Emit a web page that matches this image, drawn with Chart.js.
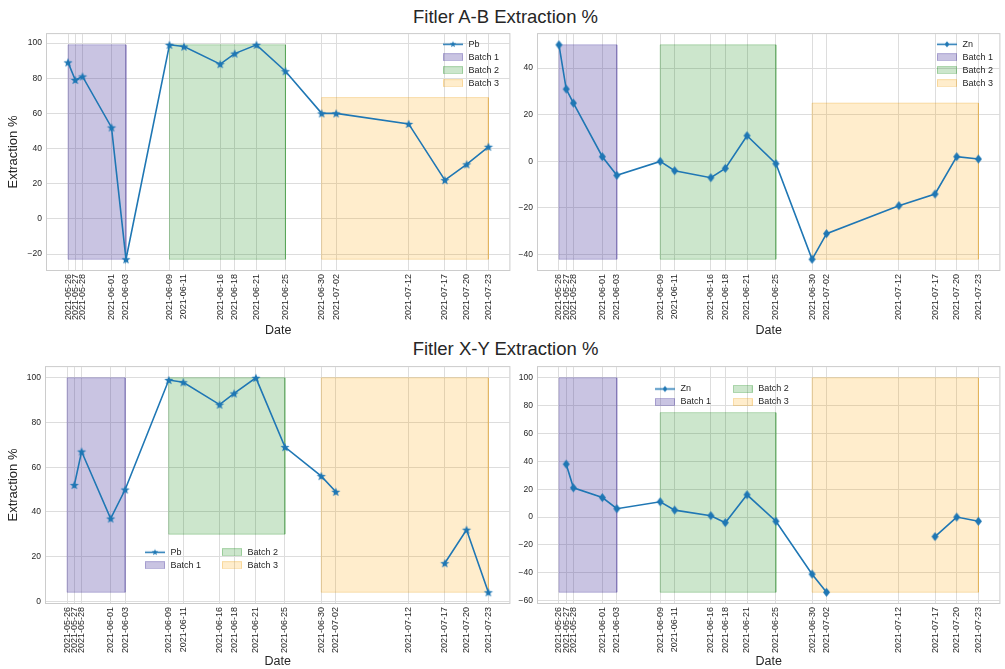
<!DOCTYPE html>
<html>
<head>
<meta charset="utf-8">
<script src="https://cdn.jsdelivr.net/npm/chart.js@4.4.0/dist/chart.umd.min.js"></script>
<style>
  body { margin: 0; background: #fff; width: 1005px; height: 669px; position: relative; overflow: hidden; font-family: "Liberation Sans", Arial, sans-serif; }
  .suptitle { position: absolute; left: 0; width: 1011px; text-align: center; font-size: 18.5px; line-height: 20px; color: #262626; }
  canvas { position: absolute; }
</style>
</head>
<body>
<div class="suptitle" style="top:7px">Fitler A-B Extraction %</div>
<div class="suptitle" style="top:339px">Fitler X-Y Extraction %</div>
<canvas id="abPb" width="515" height="316" style="left:0;top:24px"></canvas>
<canvas id="abZn" width="500" height="316" style="left:505px;top:24px"></canvas>
<canvas id="xyPb" width="515" height="312" style="left:0;top:357px"></canvas>
<canvas id="xyZn" width="500" height="312" style="left:505px;top:357px"></canvas>
<script>
'use strict';

// sample dates (x axis ticks)
let dates = ['2021-05-26', '2021-05-27', '2021-05-28', '2021-06-01', '2021-06-03',
  '2021-06-09', '2021-06-11', '2021-06-16', '2021-06-18', '2021-06-21', '2021-06-25',
  '2021-06-30', '2021-07-02', '2021-07-12', '2021-07-17', '2021-07-20', '2021-07-23'];

// extraction % per filter and metal
let pbAB = [89, 79, 81, 52, -23, 99, 98, 88, 94, 99, 84, 60, 60, 54, 22, 31, 41];
let znAB = [50, 31, 25, 2, -6, 0, -4, -7, -3, 11, -1, -42, -31, -19, -14, 2, 1];
let pbXY = [null, 52, 67, 37, 50, 99, 98, 88, 93, 100, 69, 56, 49, null, 17, 32, 4];
let znXY = [null, 38, 21, 14, 6, 11, 5, 1, -4, 16, -3, -41, -54, null, -14, 0, -3];

// batches
let batchNames = ['Batch 1', 'Batch 2', 'Batch 3'];
let batchStart = ['2021-05-26', '2021-06-09', '2021-06-30'];
let batchEnd = ['2021-06-03', '2021-06-25', '2021-07-23'];
let batchLowABPb = [-23, -23, -23];
let batchHighABPb = [99, 99, 69];
let batchLowABZn = [-42, -42, -42];
let batchHighABZn = [50, 50, 25];
let batchLowXYPb = [4, 30, 4];
let batchHighXYPb = [100, 100, 100];
let batchLowXYZn = [-54, -54, -54];
let batchHighXYZn = [100, 75, 100];

// y tick labels
let yTicksABPb = [-20, 0, 20, 40, 60, 80, 100];
let yTicksABZn = [-40, -20, 0, 20, 40];
let yTicksXYPb = [0, 20, 40, 60, 80, 100];
let yTicksXYZn = [-60, -40, -20, 0, 20, 40, 60, 80, 100];

const FONT = '"Liberation Sans", Arial, sans-serif';
const TEXT = '#262626';
const BLUE = '#1f77b4';
const GRID = '#dddddd';
let batchFill = ['rgba(75,60,160,0.30)', 'rgba(0,128,0,0.20)', 'rgba(255,165,0,0.20)'];
let batchEdge = ['rgba(75,60,160,0.30)', 'rgba(0,128,0,0.25)', 'rgba(230,150,0,0.25)'];

Chart.defaults.font.family = FONT;
Chart.defaults.color = TEXT;

const day0 = Date.parse(dates[0]);
function toDay(s) {
  return (Date.parse(s) - day0) / 86400000;
}
let xs = dates.map(toDay);
let xSpan = xs[xs.length - 1] - xs[0];
let xMin = xs[0] - 0.05 * xSpan;
let xMax = xs[xs.length - 1] + 0.05 * xSpan;

// marker shapes
function starShape(g, r) {
  g.beginPath();
  for (let i = 0; i < 10; i++) {
    let rr = i % 2 ? r * 0.42 : r;
    let a = -Math.PI / 2 + i * Math.PI / 5;
    g.lineTo(rr * Math.cos(a), rr * Math.sin(a));
  }
  g.closePath();
  g.fillStyle = BLUE;
  g.fill();
}
function diamondShape(g, r) {
  g.beginPath();
  g.moveTo(0, -r);
  g.lineTo(r * 0.8, 0);
  g.lineTo(0, r);
  g.lineTo(-r * 0.8, 0);
  g.closePath();
  g.fillStyle = BLUE;
  g.fill();
}
function markerIcon(shape, r) {
  let c = document.createElement('canvas');
  let s = Math.ceil(r * 2 + 2);
  c.width = s;
  c.height = s;
  let g = c.getContext('2d');
  g.translate(s / 2, s / 2 + (shape === starShape ? r * 0.1 : 0));
  shape(g, r);
  return c;
}
function lineIcon(shape, r) {
  let c = document.createElement('canvas');
  c.width = 20;
  c.height = 9;
  let g = c.getContext('2d');
  g.strokeStyle = BLUE;
  g.lineWidth = 1.5;
  g.beginPath();
  g.moveTo(0, 4.5);
  g.lineTo(20, 4.5);
  g.stroke();
  g.translate(10, 4.5);
  shape(g, r);
  return c;
}
function patchIcon(i) {
  let c = document.createElement('canvas');
  c.width = 20;
  c.height = 8;
  let g = c.getContext('2d');
  g.fillStyle = batchFill[i];
  g.fillRect(0, 0.5, 20, 7);
  g.strokeStyle = batchEdge[i];
  g.strokeRect(0.5, 0.5, 19, 7);
  return c;
}

// light frame round the plot area
const framePlugin = {
  id: 'frame',
  beforeDatasetsDraw(chart) {
    let a = chart.chartArea;
    let ctx = chart.ctx;
    ctx.save();
    ctx.strokeStyle = '#cccccc';
    ctx.lineWidth = 1;
    ctx.strokeRect(a.left - 0.5, a.top - 0.5, a.right - a.left + 1, a.bottom - a.top + 1);
    ctx.restore();
  }
};

// put the legend box where matplotlib put it
const legendPlace = {
  id: 'legendPlace',
  afterLayout(chart, args, opts) {
    let lg = chart.legend;
    if (!lg) return;
    lg.maxHeight = opts.rows * 13 + 5;
    lg.maxWidth = 400;
    lg.fit();
    let extra = 0;
    if (lg.columnSizes.length > 1) {
      let want = opts.colStep - 4;
      extra = want - lg.columnSizes[0].width;
      lg.columnSizes[0].width = want;
    }
    lg.left = opts.x;
    lg.top = opts.y;
    lg.width = lg.width + extra + 4;
    lg.height = lg.maxHeight;
    lg.right = lg.left + lg.width;
    lg.bottom = lg.top + lg.height;
  }
};

function makeChart(id, p) {
  let all = p.values.filter(v => v !== null).concat(p.low, p.high);
  let lo = Math.min(...all);
  let hi = Math.max(...all);
  let yMin = lo - 0.05 * (hi - lo);
  let yMax = hi + 0.05 * (hi - lo);

  let datasets = [{
    label: p.metal,
    data: xs.map((x, i) => ({x: x, y: p.values[i]})),
    borderColor: BLUE,
    backgroundColor: BLUE,
    borderWidth: 1.6,
    pointStyle: markerIcon(p.shape, p.markerR),
    pointRadius: 4,
    fill: false,
    tension: 0,
    spanGaps: false
  }];
  let icons = [lineIcon(p.shape, p.markerR * 0.7)];
  for (let i = 0; i < batchNames.length; i++) {
    let s = toDay(batchStart[i]);
    let e = toDay(batchEnd[i]);
    datasets.push({
      label: batchNames[i],
      data: [{x: s, y: p.low[i]}, {x: s, y: p.high[i]}, {x: e, y: p.high[i]}, {x: e, y: p.low[i]}, {x: s, y: p.low[i]}],
      fill: 'shape',
      backgroundColor: batchFill[i],
      borderColor: batchEdge[i],
      borderWidth: 1,
      pointRadius: 0,
      tension: 0
    });
    icons.push(patchIcon(i));
  }

  return new Chart(document.getElementById(id), {
    type: 'line',
    data: {datasets: datasets},
    plugins: [framePlugin, legendPlace],
    options: {
      responsive: false,
      animation: false,
      events: [],
      layout: {padding: {left: 0, top: 5, right: p.padRight, bottom: 0}},
      scales: {
        x: {
          type: 'linear',
          min: xMin,
          max: xMax,
          afterBuildTicks: s => { s.ticks = xs.map(v => ({value: v})); },
          afterFit: s => { s.height = p.xHeight; },
          ticks: {
            autoSkip: false,
            minRotation: 90,
            maxRotation: 90,
            padding: 4,
            font: {size: 9},
            color: TEXT,
            callback: (v, i) => dates[i]
          },
          grid: {color: GRID, drawTicks: false},
          border: {display: false},
          title: {display: true, text: 'Date', font: {size: 12.5}, color: TEXT, padding: {top: 0, bottom: p.datePad}}
        },
        y: {
          type: 'linear',
          min: yMin,
          max: yMax,
          afterBuildTicks: s => { s.ticks = p.yTicks.map(v => ({value: v})); },
          afterFit: s => { s.width = p.yWidth; },
          ticks: {
            padding: 5,
            font: {size: 8.5},
            color: TEXT,
            callback: v => (v < 0 ? '\u2212' + Math.abs(v) : String(v))
          },
          grid: {color: GRID, drawTicks: false},
          border: {display: false},
          title: {display: p.yTitle, text: 'Extraction %', font: {size: 13}, color: TEXT, padding: {top: 6, bottom: 0}}
        }
      },
      plugins: {
        tooltip: {enabled: false},
        legend: {
          position: 'chartArea',
          align: 'start',
          labels: {
            usePointStyle: true,
            pointStyleWidth: 22,
            boxHeight: 9,
            padding: 4,
            font: {size: 9},
            color: TEXT,
            generateLabels: chart => chart.data.datasets.map((ds, i) => ({
              text: ds.label,
              pointStyle: icons[i],
              fillStyle: 'rgba(0,0,0,0)',
              strokeStyle: 'rgba(0,0,0,0)',
              lineWidth: 0,
              hidden: false,
              datasetIndex: i,
              fontColor: TEXT
            }))
          }
        },
        legendPlace: p.legend
      }
    }
  });
}

makeChart('abPb', {
  metal: 'Pb', values: pbAB, low: batchLowABPb, high: batchHighABPb, yTicks: yTicksABPb,
  shape: starShape, markerR: 4.8, yTitle: true, yWidth: 47, padRight: 5, xHeight: 70, datePad: 2,
  legend: {x: 438, y: 11.8, rows: 4, colStep: 0}
});
makeChart('abZn', {
  metal: 'Zn', values: znAB, low: batchLowABZn, high: batchHighABZn, yTicks: yTicksABZn,
  shape: diamondShape, markerR: 4.4, yTitle: false, yWidth: 33, padRight: 3, xHeight: 70, datePad: 2,
  legend: {x: 427, y: 11.8, rows: 4, colStep: 0}
});
makeChart('xyPb', {
  metal: 'Pb', values: pbXY, low: batchLowXYPb, high: batchHighXYPb, yTicks: yTicksXYPb,
  shape: starShape, markerR: 4.8, yTitle: true, yWidth: 46, padRight: 5, xHeight: 66, datePad: 0,
  legend: {x: 140, y: 186.8, rows: 2, colStep: 77}
});
makeChart('xyZn', {
  metal: 'Zn', values: znXY, low: batchLowXYZn, high: batchHighXYZn, yTicks: yTicksXYZn,
  shape: diamondShape, markerR: 4.4, yTitle: false, yWidth: 33, padRight: 3, xHeight: 66, datePad: 0,
  legend: {x: 145, y: 23.5, rows: 2, colStep: 77.7}
});
</script>
</body>
</html>
